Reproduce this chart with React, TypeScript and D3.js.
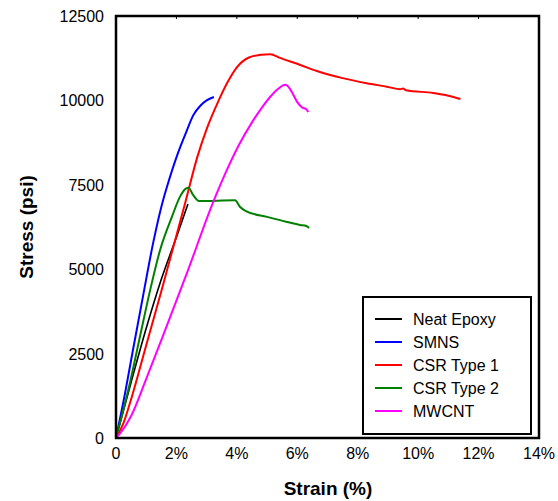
import * as d3 from 'd3';
import React, { useEffect, useRef } from 'react';

// strain (%) / stress (psi)
const neatEpoxy = [
  [0, 0], [0.5, 1650], [1.0, 3250], [1.5, 4700], [2.0, 5950], [2.38, 6930],
];
const smns = [
  [0, 0], [0.3, 1330], [0.56, 2600], [0.89, 4180], [1.23, 5780], [1.56, 7050],
  [1.69, 7450], [2.05, 8440], [2.35, 9120], [2.55, 9550], [2.8, 9850], [3.0, 10000], [3.24, 10100],
];
const csrType1 = [
  [0, 0], [0.25, 450], [0.5, 1150], [1.0, 2750], [1.5, 4350], [2.0, 6000], [2.3, 7000],
  [2.7, 8350], [3.0, 9150], [3.4, 10000], [3.7, 10550], [4.0, 10980], [4.4, 11270],
  [4.8, 11350], [5.1, 11370], [5.43, 11260], [6.1, 11050], [6.65, 10870], [7.5, 10660],
  [8.3, 10510], [9.0, 10400], [9.4, 10330], [9.5, 10350], [9.6, 10300], [10.5, 10220],
  [11.0, 10140], [11.4, 10040],
];
const csrType2 = [
  [0, 0], [0.46, 1630], [0.79, 2990], [1.13, 4380], [1.46, 5570], [1.85, 6550],
  [2.12, 7150], [2.3, 7380], [2.4, 7410], [2.55, 7200], [2.75, 7020], [3.94, 7040],
  [4.1, 6850], [4.3, 6720], [5.0, 6550], [5.66, 6400], [6.09, 6310], [6.3, 6280], [6.39, 6220],
];
const mwcnt = [
  [0, 0], [0.15, 150], [0.5, 650], [1.0, 1750], [1.5, 2900], [2.35, 4890], [3.2, 6950],
  [3.6, 7800], [4.05, 8650], [4.5, 9350], [4.8, 9750], [5.1, 10100], [5.35, 10330],
  [5.6, 10460], [5.75, 10350], [5.85, 10200], [6.0, 9950], [6.15, 9800], [6.32, 9720], [6.36, 9650],
];

const seriesNames = ['Neat Epoxy', 'SMNS', 'CSR Type 1', 'CSR Type 2', 'MWCNT'];
const seriesData = [neatEpoxy, smns, csrType1, csrType2, mwcnt];
const seriesColors = ['#000000', '#0000ff', '#ff0000', '#008000', '#ff00ff'];

const xTicks = [0, 2, 4, 6, 8, 10, 12, 14];
const yTicks = [0, 2500, 5000, 7500, 10000, 12500];

export default function App() {
  const ref = useRef<SVGSVGElement>(null);

  useEffect(() => {
    const svg = d3.select(ref.current);
    svg.selectAll('*').remove();

    const left = 116, right = 539, top = 16, bottom = 438;
    const x = d3.scaleLinear().domain([0, 14]).range([left, right]);
    const y = d3.scaleLinear().domain([0, 12500]).range([bottom, top]);
    const font = 'Liberation Sans, Arial, sans-serif';

    // data lines
    const line = d3.line<number[]>()
      .x((d) => x(d[0]))
      .y((d) => y(d[1]))
      .curve(d3.curveMonotoneX);
    seriesData.forEach((data, i) => {
      svg.append('path')
        .datum(data)
        .attr('d', line)
        .attr('fill', 'none')
        .attr('stroke', seriesColors[i])
        .attr('stroke-width', i === 0 ? 1.6 : 2)
        .attr('stroke-linejoin', 'round');
    });

    // frame
    svg.append('rect')
      .attr('x', left).attr('y', top)
      .attr('width', right - left).attr('height', bottom - top)
      .attr('fill', 'none').attr('stroke', '#000').attr('stroke-width', 2.5);

    // x ticks (inward, top) and labels
    svg.selectAll('.xt')
      .data(xTicks)
      .enter()
      .append('line')
      .attr('x1', (d) => x(d)).attr('x2', (d) => x(d))
      .attr('y1', top).attr('y2', top + 3)
      .attr('stroke', '#000').attr('stroke-width', 1);

    svg.selectAll('.xl')
      .data(xTicks)
      .enter()
      .append('text')
      .attr('x', (d) => x(d))
      .attr('y', bottom + 21)
      .attr('text-anchor', 'middle')
      .attr('font-family', font)
      .attr('font-size', 16)
      .text((d) => (d === 0 ? '0' : d + '%'));

    svg.selectAll('.yl')
      .data(yTicks)
      .enter()
      .append('text')
      .attr('x', left - 12)
      .attr('y', (d) => y(d) + 6)
      .attr('text-anchor', 'end')
      .attr('font-family', font)
      .attr('font-size', 16)
      .text((d) => String(d));

    // axis titles
    svg.append('text')
      .attr('x', 328).attr('y', 495)
      .attr('text-anchor', 'middle')
      .attr('font-family', font)
      .attr('font-weight', 'bold')
      .attr('font-size', 19)
      .text('Strain (%)');

    svg.append('text')
      .attr('transform', 'translate(33,227) rotate(-90)')
      .attr('text-anchor', 'middle')
      .attr('font-family', font)
      .attr('font-weight', 'bold')
      .attr('font-size', 19)
      .text('Stress (psi)');

    // legend
    const lg = svg.append('g');
    lg.append('rect')
      .attr('x', 363).attr('y', 297)
      .attr('width', 168).attr('height', 137)
      .attr('fill', '#fff').attr('stroke', '#000').attr('stroke-width', 2);
    seriesNames.forEach((name, i) => {
      const ry = 319 + i * 23;
      lg.append('line')
        .attr('x1', 375).attr('x2', 402)
        .attr('y1', ry).attr('y2', ry)
        .attr('stroke', seriesColors[i]).attr('stroke-width', 2);
      lg.append('text')
        .attr('x', 413).attr('y', ry + 6)
        .attr('font-family', font)
        .attr('font-size', 16)
        .text(name);
    });
  }, []);

  return <svg ref={ref} width={558} height={501} style={{ position: 'absolute', left: 0, top: 0 }} />;
}
